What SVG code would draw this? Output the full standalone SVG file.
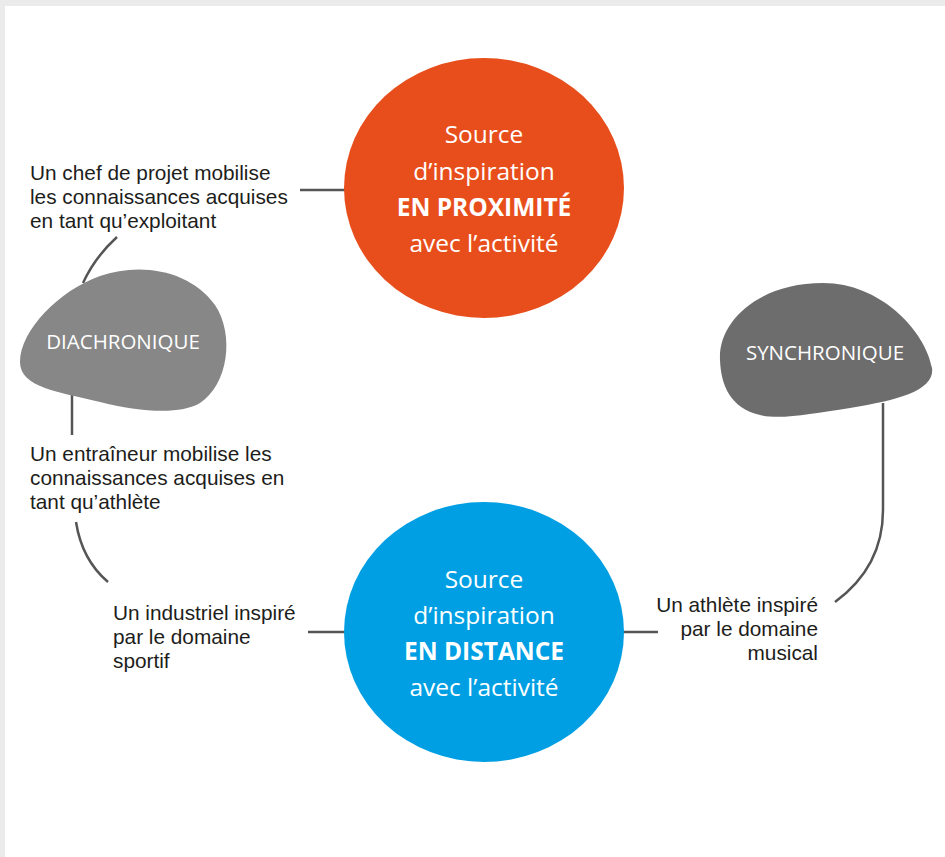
<svg xmlns="http://www.w3.org/2000/svg" width="945" height="857" viewBox="0 0 945 857">
<style>
.lbl{font-family:"Liberation Sans",Arial,sans-serif;font-size:20.8px;fill:#1d1d1b}
.big{font-family:"Open Sans","Noto Sans",sans-serif;font-size:24.5px;fill:#ffffff;text-anchor:middle}
.bold{font-weight:bold}
.blob{font-family:"Open Sans","Noto Sans",sans-serif;font-size:20.5px;fill:#ffffff;text-anchor:middle}
.con{fill:none;stroke:#555555;stroke-width:2.5}
</style>
<rect x="0" y="0" width="945" height="857" fill="#ebebeb"/>
<rect x="5" y="6" width="940" height="851" fill="#ffffff"/>
<g id="connectors">
<path class="con" d="M300 190 H345"/>
<path class="con" d="M117 237 Q95 257 83 283"/>
<path class="con" d="M72 395 V435"/>
<path class="con" d="M76 522 Q82 560 108 582"/>
<path class="con" d="M308 632 H345"/>
<path class="con" d="M623 632 H658"/>
<path class="con" d="M883 403 V510 C883 550 865 580 835 602"/>
</g>
<g id="proximite">
<ellipse cx="484" cy="188" rx="140" ry="130" fill="#e84e1b"/>
<text class="big" x="484" y="143">Source</text>
<text class="big" x="484" y="180">d’inspiration</text>
<text class="big bold" x="484" y="216">EN PROXIMITÉ</text>
<text class="big" x="484" y="252">avec l’activité</text>
</g>
<g id="distance">
<ellipse cx="484" cy="632" rx="140" ry="130" fill="#009fe3"/>
<text class="big" x="484" y="588">Source</text>
<text class="big" x="484" y="624">d’inspiration</text>
<text class="big bold" x="484" y="660">EN DISTANCE</text>
<text class="big" x="484" y="696">avec l’activité</text>
</g>
<g id="diachronique">
<path fill="#878787" d="M20 362 C20 330 60 290 100 276 C140 262 190 270 215 305 C235 335 228 385 200 403 C180 415 140 412 100 402 C60 392 20 388 20 362 Z"/>
<text class="blob" x="123" y="349">DIACHRONIQUE</text>
</g>
<g id="synchronique">
<path fill="#6d6d6d" d="M720 360 C718 320 760 283 823 283 C880 283 925 330 932 368 C935 390 900 400 850 408 C810 414 780 420 760 415 C730 408 721 385 720 360 Z"/>
<text class="blob" x="825" y="360">SYNCHRONIQUE</text>
</g>
<g id="label-chef">
<text class="lbl" x="30" y="180">Un chef de projet mobilise</text>
<text class="lbl" x="30" y="204">les connaissances acquises</text>
<text class="lbl" x="30" y="228">en tant qu’exploitant</text>
</g>
<g id="label-entraineur">
<text class="lbl" x="30" y="461">Un entraîneur mobilise les</text>
<text class="lbl" x="30" y="485">connaissances acquises en</text>
<text class="lbl" x="30" y="509">tant qu’athlète</text>
</g>
<g id="label-industriel">
<text class="lbl" x="113" y="620">Un industriel inspiré</text>
<text class="lbl" x="113" y="644">par le domaine</text>
<text class="lbl" x="113" y="668">sportif</text>
</g>
<g id="label-athlete">
<text class="lbl" x="818" y="612" text-anchor="end">Un athlète inspiré</text>
<text class="lbl" x="818" y="636" text-anchor="end">par le domaine</text>
<text class="lbl" x="818" y="660" text-anchor="end">musical</text>
</g>
</svg>
